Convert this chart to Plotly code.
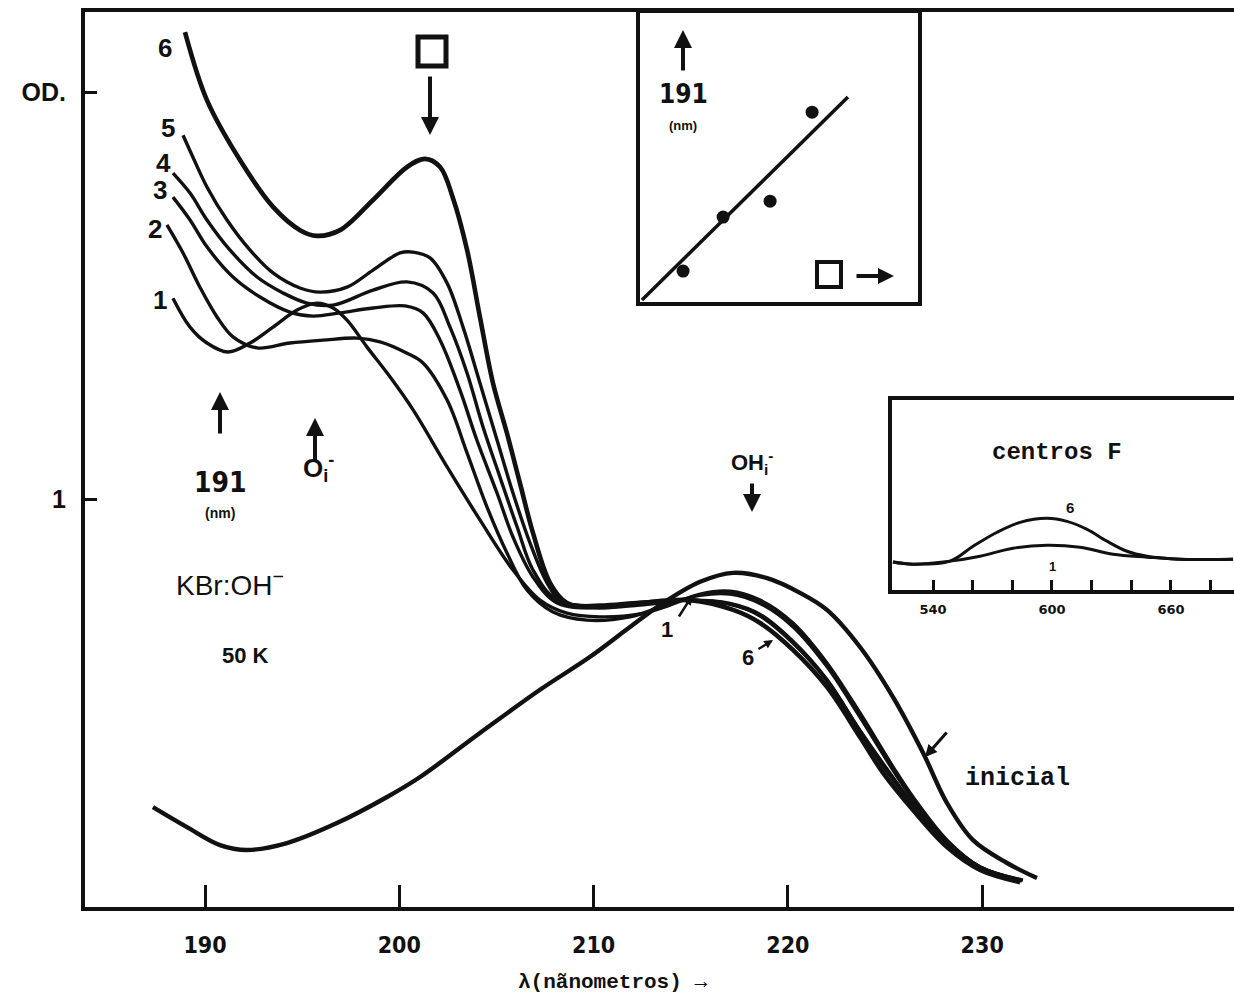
import plotly.graph_objects as go

# ---------------- main spectra (wavelength nm, optical density) ----------------
wl_inicial = [187.32, 189.07, 190.77, 192.16, 194.22, 196.79, 199.37, 201.07, 204.15, 207.24, 209.82, 211.87,
              213.42, 215.48, 217.18, 218.93, 220.62, 222.01, 223.71, 225.41, 226.96, 228.19, 229.53, 231.28, 232.82]
od_inicial = [0.245, 0.196, 0.152, 0.140, 0.157, 0.206, 0.270, 0.319, 0.427, 0.533, 0.614, 0.687,
              0.741, 0.798, 0.820, 0.807, 0.771, 0.729, 0.638, 0.515, 0.378, 0.255, 0.164, 0.108, 0.071]

wl_1 = [188.35, 189.23, 190.10, 191.18, 192.32, 193.50, 194.74, 195.76, 196.59, 197.31, 198.34, 199.52, 200.71,
        202.46, 204.15, 205.85, 207.24, 208.63, 210.33, 212.39, 213.93, 215.48, 217.02, 218.57, 220.26, 222.01,
        223.71, 225.41, 226.44, 228.19, 229.89, 232.10]
od_1 = [1.494, 1.423, 1.384, 1.362, 1.384, 1.423, 1.465, 1.482, 1.470, 1.440, 1.374, 1.301, 1.220,
        1.080, 0.950, 0.827, 0.753, 0.721, 0.712, 0.719, 0.741, 0.768, 0.775, 0.753, 0.697, 0.599,
        0.476, 0.344, 0.270, 0.164, 0.098, 0.066]

wl_2 = [188.04, 188.87, 189.74, 190.62, 191.44, 192.68, 194.37, 196.07, 197.82, 199.01, 200.40, 201.22, 202.46,
        203.49, 204.51, 205.54, 206.57, 207.91, 209.66, 211.87, 213.93, 215.48, 217.02, 218.57, 220.26, 222.01,
        223.71, 225.41, 226.44, 228.19, 229.89, 232.05]
od_2 = [1.674, 1.605, 1.521, 1.448, 1.399, 1.372, 1.384, 1.391, 1.396, 1.387, 1.359, 1.335, 1.244,
        1.114, 0.982, 0.869, 0.778, 0.724, 0.704, 0.712, 0.745, 0.765, 0.768, 0.745, 0.688, 0.590,
        0.466, 0.336, 0.263, 0.160, 0.096, 0.064]

wl_3 = [188.35, 189.23, 190.10, 191.44, 192.83, 194.37, 195.56, 196.95, 198.65, 200.30, 201.22, 202.10, 203.12,
        203.99, 205.03, 205.85, 206.88, 208.12, 210.33, 212.39, 214.96, 217.02, 218.57, 220.26, 222.01, 223.71,
        225.41, 226.44, 228.19, 229.89, 232.00]
od_3 = [1.742, 1.686, 1.620, 1.546, 1.497, 1.460, 1.450, 1.458, 1.470, 1.475, 1.458, 1.391, 1.269,
        1.146, 1.016, 0.908, 0.810, 0.746, 0.734, 0.741, 0.753, 0.745, 0.718, 0.652, 0.558, 0.433,
        0.318, 0.252, 0.160, 0.098, 0.066]

wl_4 = [188.35, 189.23, 190.10, 191.29, 192.68, 194.01, 195.25, 196.59, 198.65, 200.40, 201.74, 202.61, 203.49,
        204.31, 205.18, 206.06, 206.88, 208.12, 210.33, 212.39, 214.96, 217.02, 218.57, 220.26, 222.01, 223.71,
        225.41, 226.44, 228.19, 229.89, 232.00]
od_4 = [1.801, 1.752, 1.686, 1.612, 1.546, 1.507, 1.482, 1.477, 1.514, 1.534, 1.507, 1.423, 1.310,
        1.178, 1.055, 0.933, 0.827, 0.753, 0.739, 0.746, 0.753, 0.743, 0.716, 0.650, 0.556, 0.431,
        0.316, 0.250, 0.158, 0.097, 0.065]

wl_5 = [188.87, 189.38, 190.10, 191.13, 192.32, 193.50, 194.89, 195.92, 197.31, 198.65, 200.04, 200.71, 201.58,
        202.46, 203.28, 204.15, 205.03, 205.85, 206.73, 207.61, 208.42, 210.33, 212.39, 214.96, 217.18, 218.57,
        220.26, 222.01, 223.71, 224.90, 226.44, 228.19, 229.89, 231.95]
od_5 = [1.894, 1.840, 1.767, 1.686, 1.612, 1.556, 1.519, 1.509, 1.521, 1.563, 1.605, 1.607, 1.593,
        1.531, 1.423, 1.286, 1.146, 1.016, 0.893, 0.795, 0.746, 0.741, 0.748, 0.753, 0.742, 0.714,
        0.648, 0.555, 0.432, 0.345, 0.252, 0.160, 0.098, 0.066]

wl_6 = [188.97, 190.10, 191.80, 193.50, 194.89, 195.76, 196.95, 198.65, 200.40, 201.32, 202.10, 202.76, 203.49,
        204.15, 204.82, 205.54, 206.21, 206.88, 207.76, 208.63, 210.33, 212.39, 214.96, 217.18, 218.57, 220.26,
        222.01, 223.71, 224.90, 226.44, 228.19, 229.89, 231.95]
od_6 = [2.147, 1.980, 1.833, 1.718, 1.661, 1.647, 1.661, 1.735, 1.816, 1.836, 1.816, 1.740, 1.612,
        1.448, 1.286, 1.163, 1.040, 0.918, 0.795, 0.746, 0.736, 0.746, 0.753, 0.729, 0.697, 0.631,
        0.540, 0.417, 0.329, 0.238, 0.147, 0.091, 0.061]

x_ticks = [190, 200, 210, 220, 230]
y_ticks = [1, 2]
y_ticktext = ["1", "OD."]

# ---------------- inset 1: 191 nm band vs vacancies ----------------
ins1_x = [0.155, 0.299, 0.468, 0.619]
ins1_y = [0.107, 0.294, 0.349, 0.657]
fit_x = [0.007, 0.748]
fit_y = [0.007, 0.709]

# ---------------- inset 2: F centres ----------------
f_wl_6 = [519.8, 529.9, 548.6, 560.2, 572.3, 583.9, 597.5, 607.6, 617.7, 627.7, 637.8, 647.9, 664.6, 691.3]
f_od_6 = [0.147, 0.136, 0.152, 0.230, 0.304, 0.356, 0.377, 0.361, 0.319, 0.257, 0.204, 0.178, 0.162, 0.162]
f_wl_1 = [519.8, 529.9, 548.6, 563.7, 580.3, 597.5, 614.1, 630.8, 647.9, 664.6, 691.3]
f_od_1 = [0.147, 0.136, 0.152, 0.178, 0.220, 0.236, 0.225, 0.188, 0.173, 0.162, 0.162]
f_ticks = [540, 560, 580, 600, 620, 640, 660, 680]
f_ticktext = ["540", "", "", "600", "", "", "660", ""]

# ---------------- layout geometry ----------------
W, H = 1234, 999
ML, MR, MT, MB = 85, 0, 12, 92
PW, PH = W - ML - MR, H - MT - MB


def P(px, py):
    return (px - ML) / PW, (H - MB - py) / PH


BLACK = "#111111"
SANS = "Liberation Sans, Arial, sans-serif"
NARROW = "Liberation Sans Narrow, DejaVu Sans Condensed, Arial Narrow, sans-serif"
MONO = "Liberation Mono, Courier New, monospace"

fig = go.Figure()

curves = [
    (wl_inicial, od_inicial, 4.4),
    (wl_1, od_1, 3.4),
    (wl_2, od_2, 3.4),
    (wl_3, od_3, 3.4),
    (wl_4, od_4, 3.4),
    (wl_5, od_5, 3.4),
    (wl_6, od_6, 4.6),
]
for xs, ys, w in curves:
    fig.add_trace(go.Scatter(x=xs, y=ys, mode="lines",
                             line=dict(color=BLACK, width=w, shape="spline", smoothing=1.0),
                             hoverinfo="skip", showlegend=False, xaxis="x", yaxis="y"))

# inset 1
fig.add_trace(go.Scatter(x=fit_x, y=fit_y, mode="lines", line=dict(color=BLACK, width=3.5),
                         showlegend=False, xaxis="x2", yaxis="y2"))
fig.add_trace(go.Scatter(x=ins1_x, y=ins1_y, mode="markers", marker=dict(color=BLACK, size=13),
                         showlegend=False, xaxis="x2", yaxis="y2"))

# inset 2
fig.add_trace(go.Scatter(x=f_wl_6, y=f_od_6, mode="lines",
                         line=dict(color=BLACK, width=3, shape="spline", smoothing=1.0),
                         showlegend=False, xaxis="x3", yaxis="y3"))
fig.add_trace(go.Scatter(x=f_wl_1, y=f_od_1, mode="lines",
                         line=dict(color=BLACK, width=3, shape="spline", smoothing=1.0),
                         showlegend=False, xaxis="x3", yaxis="y3"))

i1x0, i1y1 = P(640, 13)
i1x1, i1y0 = P(918, 302)
i2x0, i2y1 = P(892, 400)
_, i2y0 = P(892, 590)

fig.update_layout(
    width=W, height=H,
    margin=dict(l=ML, r=MR, t=MT, b=MB, pad=0),
    paper_bgcolor="white", plot_bgcolor="white",
    showlegend=False,
    xaxis=dict(range=[190 - 120 / 19.43, 190 + 1029 / 19.43], domain=[0, 1],
               showline=True, linewidth=4, linecolor=BLACK, mirror=True,
               ticks="inside", ticklen=22, tickwidth=3, tickcolor=BLACK,
               tickvals=x_ticks, ticktext=[str(v) for v in x_ticks],
               tickfont=dict(family=NARROW, size=23, color=BLACK, weight="bold"),
               ticklabelstandoff=14,
               showgrid=False, zeroline=False),
    yaxis=dict(range=[0, 895 / 407.5], domain=[0, 1],
               showline=True, linewidth=4, linecolor=BLACK, mirror=False,
               ticks="inside", ticklen=12, tickwidth=3, tickcolor=BLACK,
               tickvals=y_ticks, ticktext=y_ticktext,
               tickfont=dict(family=SANS, size=25, color=BLACK, weight="bold"),
               ticklabelstandoff=10,
               showgrid=False, zeroline=False),
    xaxis2=dict(domain=[i1x0, i1x1], anchor="y2", range=[0, 1],
                showline=True, linewidth=4, linecolor=BLACK, mirror=True,
                showticklabels=False, ticks="", showgrid=False, zeroline=False),
    yaxis2=dict(domain=[i1y0, i1y1], anchor="x2", range=[0, 1],
                showline=True, linewidth=4, linecolor=BLACK, mirror=True,
                showticklabels=False, ticks="", showgrid=False, zeroline=False),
    xaxis3=dict(domain=[i2x0, 1], anchor="y3", range=[540 - 41 / 1.983, 600 + 182 / 1.983],
                showline=True, linewidth=4, linecolor=BLACK, mirror=True,
                ticks="inside", ticklen=10, tickwidth=3, tickcolor=BLACK,
                tickvals=f_ticks, ticktext=f_ticktext,
                tickfont=dict(family="DejaVu Sans, sans-serif", size=13, color=BLACK, weight="bold"),
                ticklabelstandoff=4,
                showgrid=False, zeroline=False),
    yaxis3=dict(domain=[i2y0, i2y1], anchor="x3", range=[0, 1],
                showline=True, linewidth=4, linecolor=BLACK, mirror=False,
                showticklabels=False, ticks="", showgrid=False, zeroline=False),
)

ann = []


def text(s, px, py, size, family=SANS, weight="bold", xanchor="center"):
    x, y = P(px, py)
    ann.append(dict(text=s, x=x, y=y, xref="paper", yref="paper", showarrow=False,
                    xanchor=xanchor, yanchor="middle",
                    font=dict(family=family, size=size, color=BLACK, weight=weight)))


def arrow(head, tail, width=4, size=0.9, style=2):
    x, y = P(*head)
    ann.append(dict(text="", x=x, y=y, xref="paper", yref="paper", showarrow=True,
                    ax=tail[0] - head[0], ay=tail[1] - head[1], axref="pixel", ayref="pixel",
                    arrowhead=style, arrowsize=size, arrowwidth=width, arrowcolor=BLACK))


# curve numbers
text("6", 165, 48, 26)
text("5", 168, 128, 26)
text("4", 163, 163, 26)
text("3", 160, 190, 26)
text("2", 155, 229, 26)
text("1", 160, 300, 26)
text("1", 667, 629, 22)
text("6", 748, 657, 22)

# band markers
arrow((430, 135), (430, 75))
arrow((220, 392), (220, 435))
text("191", 220, 482, 28, family=NARROW)
text("(nm)", 220, 513, 14)
arrow((315, 418), (315, 462))
text("O<sub>i</sub><sup>-</sup>", 318, 468, 26)
text("OH<sub>i</sub><sup>-</sup>", 752, 462, 22)
arrow((752, 512), (752, 482))

text("KBr:OH<sup>−</sup>", 230, 583, 28, weight="normal")
text("50 K", 245, 655, 22)

text("inicial", 1017, 778, 25, family=MONO)
arrow((925, 757), (948, 731), width=3, size=0.8)
arrow((692, 596), (678, 618), width=2.5, size=0.7)
arrow((773, 640), (757, 650), width=2.5, size=0.7)

text("λ(nãnometros) →", 612, 983, 21, family=MONO)

# inset 1 labels
arrow((683, 30), (683, 72))
text("191", 683, 94, 26, family=NARROW)
text("(nm)", 683, 125, 13)
arrow((894, 276), (855, 276), width=4, size=0.8)

# inset 2 labels
text("centros F", 1057, 452, 24, family=MONO)
text("6", 1070, 507, 15)
text("1", 1052, 566, 13)

fig.update_layout(annotations=ann)

# vacancy squares
shapes = []
for (a, b, c, d, w) in [(418, 37, 446, 66, 5), (817, 262, 841, 287, 4)]:
    xa, ya = P(a, d)
    xb, yb = P(c, b)
    shapes.append(dict(type="rect", xref="paper", yref="paper", x0=xa, y0=ya, x1=xb, y1=yb,
                       line=dict(color=BLACK, width=w)))
fig.update_layout(shapes=shapes)

fig.write_html("out.html")
